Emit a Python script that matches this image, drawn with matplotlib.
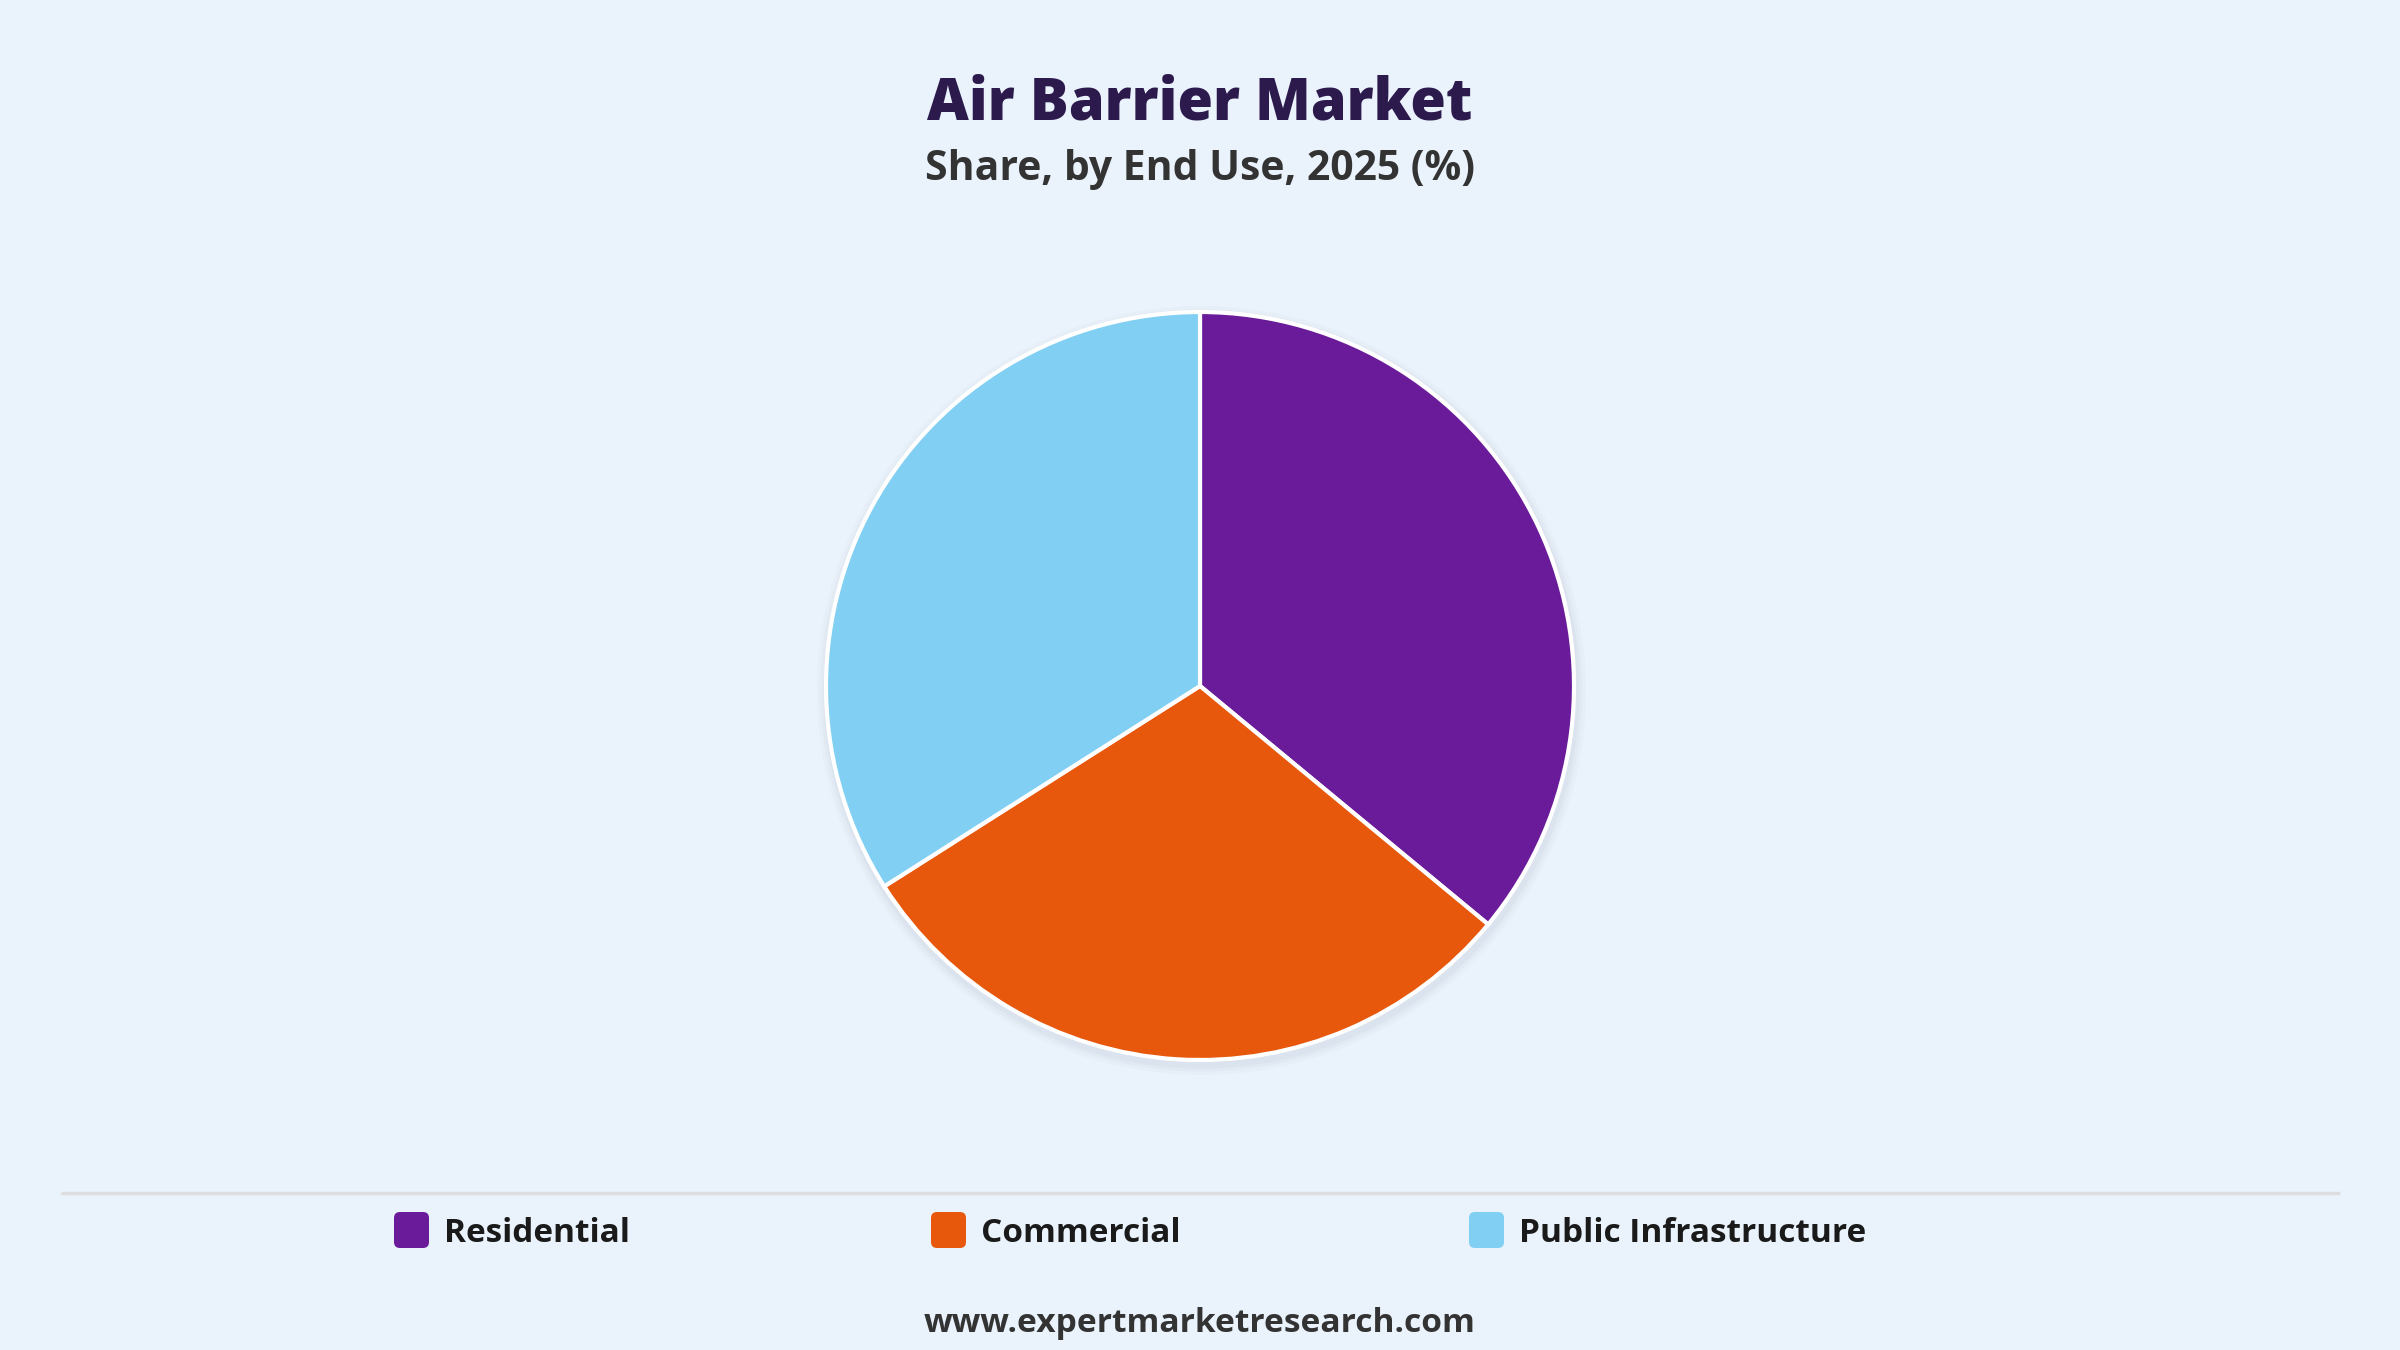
import matplotlib.pyplot as plt
from matplotlib.patches import FancyBboxPatch, Circle

# dane
labels = ["Residential", "Commercial", "Public Infrastructure"]
shares = [36, 30, 34]
colors = ["#6a1b9a", "#e8580c", "#81cff2"]

title = "Air Barrier Market"
subtitle = "Share, by End Use, 2025 (%)"
footer = "www.expertmarketresearch.com"

W, H = 2400, 1350
bg = "#eaf2fb"
font = "Open Sans"

fig = plt.figure(figsize=(24, 13.5), dpi=100, facecolor=bg)

# warstwa w pikselach (0..2400, 0..1350 od gory)
ov = fig.add_axes([0, 0, 1, 1])
ov.set_xlim(0, W)
ov.set_ylim(H, 0)
ov.axis("off")
ov.set_zorder(0)

# pie - srodek (1200, 686), promien 374 px
cx, cy, r = 1200, 686, 374
m = 1.1
ax = fig.add_axes([(cx - r * m) / W, (H - cy - r * m) / H, 2 * r * m / W, 2 * r * m / H])
ax.set_zorder(1)
ax.patch.set_alpha(0)

# cien
for rr, a in [(1.028, 0.03), (1.019, 0.04), (1.011, 0.05)]:
    ax.add_patch(Circle((0.004, -0.012), rr, color="#6f7f96", alpha=a, lw=0, zorder=0, clip_on=False))

ax.pie(shares, colors=colors, startangle=90, counterclock=False, radius=1.0,
       wedgeprops=dict(edgecolor="white", linewidth=3.0, zorder=2))
ax.set_xlim(-m, m)
ax.set_ylim(-m, m)
ax.set_position([(cx - r * m) / W, (H - cy - r * m) / H, 2 * r * m / W, 2 * r * m / H])
ax.axis("off")

# tytul
ov.text(W / 2, 120, title, ha="center", va="baseline", fontsize=41.5, fontweight="heavy",
        color="#2c1a4d", family=font)
ov.text(W / 2, 180, subtitle, ha="center", va="baseline", fontsize=29.4, fontweight="bold",
        color="#333333", family=font)

# linia
ov.plot([61, 2340], [1193, 1193], color="#dcdde0", lw=2.4, solid_capstyle="butt")

# legenda
leg_x = [394, 931, 1469]
for x, lab, col in zip(leg_x, labels, colors):
    ov.add_patch(FancyBboxPatch((x + 5, 1217), 25, 26, boxstyle="round,pad=5,rounding_size=6",
                                facecolor=col, edgecolor="none"))
    ov.text(x + 50, 1242, lab, ha="left", va="baseline", fontsize=24, fontweight="bold",
            color="#1a1a1a", family=font)

ov.text(W / 2, 1332, footer, ha="center", va="baseline", fontsize=24.1, fontweight="bold",
        color="#333333", family=font)

fig.savefig("out.png", dpi=100, facecolor=bg)
